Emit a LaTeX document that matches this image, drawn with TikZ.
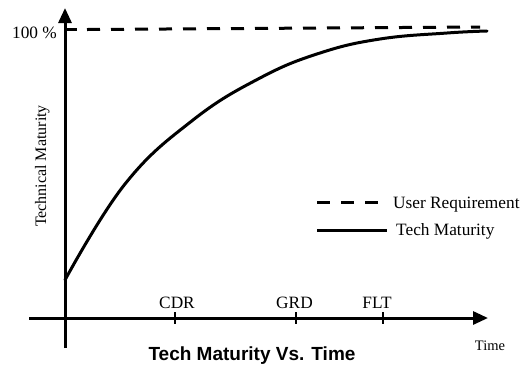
\documentclass[tikz,border=0pt]{standalone}
\usepackage{fontspec}
\setmainfont{Liberation Serif}
\newfontfamily\titlefont{Liberation Sans}
\usetikzlibrary{arrows.meta}
\tikzset{
  axisline/.style={line width=3pt, -{Triangle[length=15pt,width=13pt]}},
  reqline/.style={line width=3pt, dash pattern=on 13pt off 11pt},
  matline/.style={line width=3pt, line cap=round},
  tickmark/.style={line width=2.2pt},
  lbl/.style={inner sep=0pt, font=\fontsize{17.3}{19}\selectfont},
}
\begin{document}
\begin{tikzpicture}[x=1pt,y=-1pt]
\useasboundingbox (0,0) rectangle (524,368);
% axes
\coordinate (yb) at (65,348);
\coordinate (yt) at (65,8);
\coordinate (xl) at (29,318);
\coordinate (xr) at (488,318);
\draw[axisline] (yb) -- (yt);
\draw[axisline] (xl) -- (xr);
% 100% stub and requirement line
\coordinate (s0) at (64,29.5);
\coordinate (s1) at (77,29.5);
\coordinate (r0) at (87,29.5);
\coordinate (r1) at (480,27);
\draw[line width=3pt] (s0) -- (s1);
\draw[reqline] (r0) -- (r1);
\node[lbl, anchor=base east] (pct) at (57,38) {100 \%};
% ticks on time axis
\foreach \n/\x in {cdr/175, grd/296, flt/383}{
  \coordinate (\n a) at (\x,312);
  \coordinate (\n b) at (\x,324);
  \draw[tickmark] (\n a) -- (\n b);
}
\node[lbl, anchor=base] (cdrl) at (177,308) {CDR};
\node[lbl, anchor=base] (grdl) at (294.5,308) {GRD};
\node[lbl, anchor=base] (fltl) at (377,308) {FLT};
% maturity curve
\draw[matline] plot[smooth, tension=0.7] coordinates {
  (65,280) (125,184) (193,120) (260,78) (320,53) (380,39) (447,33) (487,31)};
% legend
\coordinate (la0) at (317,202);
\coordinate (la1) at (378,202);
\coordinate (lb0) at (317,230);
\coordinate (lb1) at (387,230);
\draw[reqline] (la0) -- (la1);
\draw[matline, line cap=butt] (lb0) -- (lb1);
\node[lbl, anchor=base west] (lega) at (393,208) {User Requirement};
\node[lbl, anchor=base west] (legb) at (396,235) {Tech Maturity};
% axis labels
\node[lbl, font=\fontsize{16}{18}\selectfont, rotate=90, anchor=base] (ylab) at (46,166) {Technical Maturity};
\node[lbl, font=\fontsize{14.5}{16}\selectfont, anchor=base] (xlab) at (490,350) {Time};
\node[inner sep=0pt, anchor=base, font=\titlefont\bfseries\fontsize{19}{21}\selectfont] (title) at (252,360) {Tech Maturity Vs. Time};
\end{tikzpicture}
\end{document}
